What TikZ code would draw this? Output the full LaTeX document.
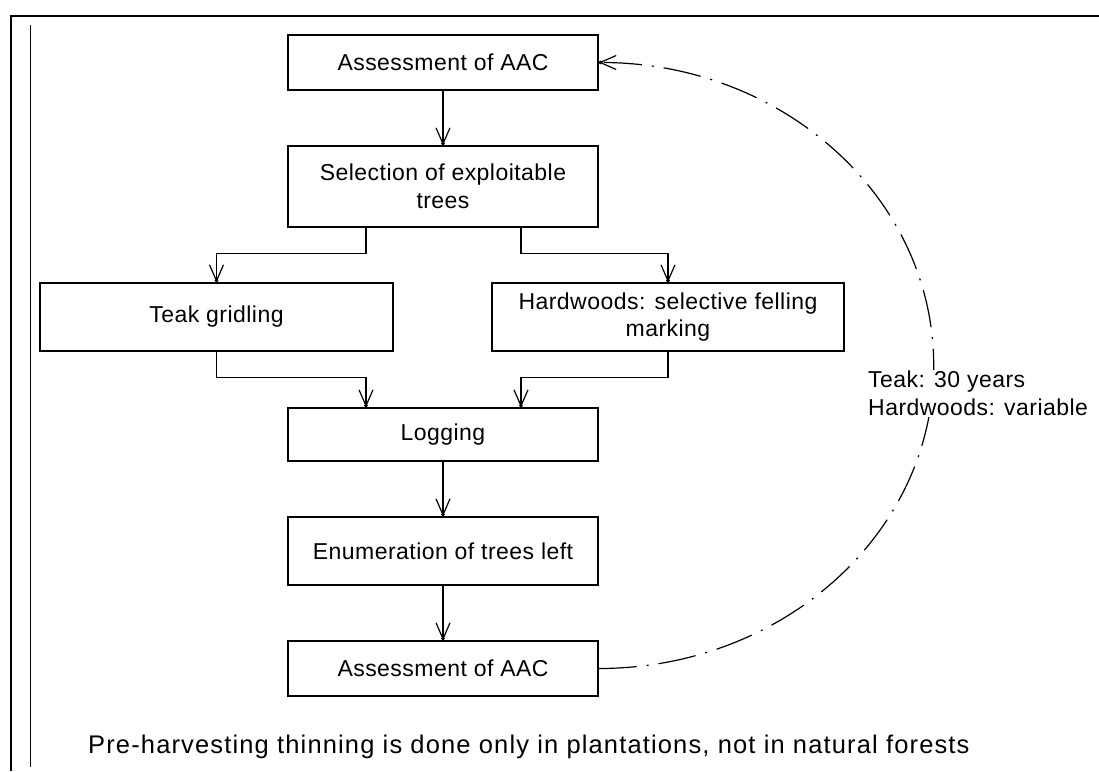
\documentclass[tikz,border=0pt]{standalone}
\usepackage{fontspec}
\setmainfont{Liberation Sans}
\newfontfamily\boxfont{Liberation Sans}[LetterSpace=2]
\newfontfamily\notefont{Liberation Sans}[LetterSpace=4.5]
\usetikzlibrary{arrows.meta}
\begin{document}
\begin{tikzpicture}[x=1pt,y=-1pt,
  txt/.style={font=\boxfont\fontsize{23}{27.5}\selectfont},
  box/.style={draw,line width=1.4pt,align=center,inner sep=0pt,txt},
  arr/.style={line width=1.4pt,-{Straight Barb[length=16pt,width=14pt,line width=1.2pt,sep=-3.5pt]Circle[length=3.5pt]}},
  loopline/.style={line width=1.2pt,dash pattern=on 38pt off 10pt on 2pt off 10pt,-{Straight Barb[length=16pt,width=14pt,line width=1.2pt,sep=-3.5pt]Circle[length=3.5pt]}},
  frame/.style={line width=1.6pt}
]
\useasboundingbox (0,0) rectangle (1099,771);
% page frame
\draw[frame] (10,16) -- (1099,16);
\draw[frame] (11,16) -- (11,771);
\draw[line width=1.3pt] (30.5,25) -- (30.5,767);
% boxes
\node[box,minimum width=310pt,minimum height=55pt] (b1) at (443,62.5) {Assessment of AAC};
\node[box,minimum width=310pt,minimum height=81pt] (b2) at (443,186.5) {Selection of exploitable\\trees};
\node[box,minimum width=353pt,minimum height=68pt] (b3) at (216.5,317) {Teak gridling};
\node[box,minimum width=352pt,minimum height=68pt] (b4) at (668,317) {Hardwoods: selective felling\\marking};
\node[box,minimum width=310pt,minimum height=53pt] (b5) at (443,434.5) {Logging};
\node[box,minimum width=310pt,minimum height=68pt] (b6) at (443,551) {Enumeration of trees left};
\node[box,minimum width=310pt,minimum height=55pt] (b7) at (443,668.5) {Assessment of AAC};
% connectors
\draw[arr] (b1) -- (b2);
\draw[arr] ([xshift=-77pt]b2.south) -- ++(0,26) -| (b3.north);
\draw[arr] ([xshift=78pt]b2.south) -- ++(0,26) -| (b4.north);
\draw[arr] (b3.south) -- ++(0,26) -| ([xshift=-77pt]b5.north);
\draw[arr] (b4.south) -- ++(0,26) -| ([xshift=78pt]b5.north);
\draw[arr] (b5) -- (b6);
\draw[arr] (b6) -- (b7);
% return loop
\draw[loopline] (b7.east) arc[start angle=-90,end angle=90,x radius=335pt,y radius=303pt];
\node[txt,fill=white,align=left,anchor=west,inner sep=1pt] (lab) at (867,393.5) {Teak: 30 years\\Hardwoods: variable};
% note
\node[font=\notefont\fontsize{25.5}{30}\selectfont,anchor=west,inner sep=0pt] (note) at (88,747) {Pre-harvesting thinning is done only in plantations, not in natural forests};
\end{tikzpicture}
\end{document}
